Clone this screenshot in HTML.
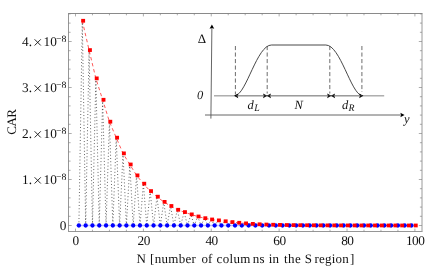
<!DOCTYPE html>
<html><head><meta charset="utf-8"><style>html,body{margin:0;padding:0;background:#fff}svg{display:block;will-change:transform}text{font-family:"Liberation Serif",serif;fill:#111;text-rendering:geometricPrecision}</style></head><body>
<svg width="436" height="269" viewBox="0 0 436 269">
<rect width="436" height="269" fill="#fff"/>
<polyline points="78.89,225.50 82.29,20.80 85.68,225.50 89.08,50.10 92.47,225.50 95.86,78.40 99.26,225.50 102.65,99.80 106.05,225.50 109.44,121.70 112.83,225.50 116.23,137.70 119.62,225.50 123.02,153.40 126.41,225.50 129.80,164.50 133.20,225.50 136.59,175.40 139.99,225.50 143.38,183.70 146.77,225.50 150.17,191.10 153.56,225.50 156.96,196.70 160.35,225.50 163.74,201.90 167.14,225.50 170.53,206.00 173.93,225.50 177.32,209.80 180.71,225.50 184.11,212.10 187.50,225.50 190.90,214.40 194.29,225.50 197.68,216.50 201.08,225.50 204.47,218.20 207.87,225.50 211.26,219.50 214.65,225.50 218.05,220.40 221.44,225.50 224.84,221.30 228.23,225.50 231.62,222.10 235.02,225.50 238.41,222.80 241.81,225.50 245.20,223.40 248.59,225.50 251.99,223.90 255.38,225.50 258.78,224.30 262.17,225.50 265.56,224.56 268.96,225.50 272.35,224.76 275.75,225.50 279.14,224.92 282.53,225.50 285.93,225.04 289.32,225.50 292.72,225.14 296.11,225.50 299.50,225.22 302.90,225.50 306.29,225.28 309.69,225.50 313.08,225.32 316.47,225.50 319.87,225.36 323.26,225.50 326.66,225.39 330.05,225.50 333.44,225.41 336.84,225.50 340.23,225.43 343.63,225.50 347.02,225.45 350.41,225.50 353.81,225.46 357.20,225.50 360.60,225.47 363.99,225.50 367.38,225.47 370.78,225.50 374.17,225.48 377.57,225.50 380.96,225.48 384.35,225.50 387.75,225.49 391.14,225.50 394.54,225.49 397.93,225.50 401.32,225.49 404.72,225.50 408.11,225.49 411.51,225.50 414.90,225.50" fill="none" stroke="#000" stroke-width="0.8" stroke-dasharray="1 2.25" stroke-opacity="0.75"/>
<line x1="76.09" y1="225.5" x2="411.51" y2="225.5" stroke="#0000ff" stroke-width="1.6" stroke-opacity="0.25"/>
<polyline points="82.29,20.80 89.08,50.10 95.86,78.40 102.65,99.80 109.44,121.70 116.23,137.70 123.02,153.40 129.80,164.50 136.59,175.40 143.38,183.70 150.17,191.10 156.96,196.70 163.74,201.90 170.53,206.00 177.32,209.80 184.11,212.10 190.90,214.40 197.68,216.50 204.47,218.20 211.26,219.50 218.05,220.40 224.84,221.30 231.62,222.10 238.41,222.80 245.20,223.40 251.99,223.90 258.78,224.30 265.56,224.56 272.35,224.76 279.14,224.92 285.93,225.04 292.72,225.14 299.50,225.22 306.29,225.28 313.08,225.32 319.87,225.36 326.66,225.39 333.44,225.41 340.23,225.43 347.02,225.45 353.81,225.46 360.60,225.47 367.38,225.47 374.17,225.48 380.96,225.48 387.75,225.49 394.54,225.49 401.32,225.49 408.11,225.49 414.90,225.50" fill="none" stroke="#ff0000" stroke-width="0.65" stroke-dasharray="3.4 2.8"/>
<path d="M68.0,13.5H422.5" stroke="#8a8a8a" stroke-width="1" fill="none"/>
<path d="M68.5,13.5V231.5" stroke="#969696" stroke-width="1" fill="none"/>
<path d="M68.0,231.5H422.5" stroke="#969696" stroke-width="1" fill="none"/>
<path d="M422.0,13.5V231.5" stroke="#9a9a9a" stroke-width="1" fill="none"/>
<path d="M75.50,231.5v-2.9M75.50,13.5v2.9M92.47,231.5v-1.8M92.47,13.5v1.8M109.44,231.5v-1.8M109.44,13.5v1.8M126.41,231.5v-1.8M126.41,13.5v1.8M143.38,231.5v-2.9M143.38,13.5v2.9M160.35,231.5v-1.8M160.35,13.5v1.8M177.32,231.5v-1.8M177.32,13.5v1.8M194.29,231.5v-1.8M194.29,13.5v1.8M211.26,231.5v-2.9M211.26,13.5v2.9M228.23,231.5v-1.8M228.23,13.5v1.8M245.20,231.5v-1.8M245.20,13.5v1.8M262.17,231.5v-1.8M262.17,13.5v1.8M279.14,231.5v-2.9M279.14,13.5v2.9M296.11,231.5v-1.8M296.11,13.5v1.8M313.08,231.5v-1.8M313.08,13.5v1.8M330.05,231.5v-1.8M330.05,13.5v1.8M347.02,231.5v-2.9M347.02,13.5v2.9M363.99,231.5v-1.8M363.99,13.5v1.8M380.96,231.5v-1.8M380.96,13.5v1.8M397.93,231.5v-1.8M397.93,13.5v1.8M414.90,231.5v-2.9M414.90,13.5v2.9M68.5,225.50h3.2M422.0,225.50h-3.2M68.5,216.30h2.1M422.0,216.30h-2.1M68.5,207.10h2.1M422.0,207.10h-2.1M68.5,197.90h2.1M422.0,197.90h-2.1M68.5,188.70h2.1M422.0,188.70h-2.1M68.5,179.50h3.2M422.0,179.50h-3.2M68.5,170.30h2.1M422.0,170.30h-2.1M68.5,161.10h2.1M422.0,161.10h-2.1M68.5,151.90h2.1M422.0,151.90h-2.1M68.5,142.70h2.1M422.0,142.70h-2.1M68.5,133.50h3.2M422.0,133.50h-3.2M68.5,124.30h2.1M422.0,124.30h-2.1M68.5,115.10h2.1M422.0,115.10h-2.1M68.5,105.90h2.1M422.0,105.90h-2.1M68.5,96.70h2.1M422.0,96.70h-2.1M68.5,87.50h3.2M422.0,87.50h-3.2M68.5,78.30h2.1M422.0,78.30h-2.1M68.5,69.10h2.1M422.0,69.10h-2.1M68.5,59.90h2.1M422.0,59.90h-2.1M68.5,50.70h2.1M422.0,50.70h-2.1M68.5,41.50h3.2M422.0,41.50h-3.2M68.5,32.30h2.1M422.0,32.30h-2.1M68.5,23.10h2.1M422.0,23.10h-2.1M68.5,13.90h2.1M422.0,13.90h-2.1" stroke="#808080" stroke-width="0.65" fill="none"/>
<circle cx="78.89" cy="225.5" r="2.15" fill="#0000ff"/>
<circle cx="85.68" cy="225.5" r="2.15" fill="#0000ff"/>
<circle cx="92.47" cy="225.5" r="2.15" fill="#0000ff"/>
<circle cx="99.26" cy="225.5" r="2.15" fill="#0000ff"/>
<circle cx="106.05" cy="225.5" r="2.15" fill="#0000ff"/>
<circle cx="112.83" cy="225.5" r="2.15" fill="#0000ff"/>
<circle cx="119.62" cy="225.5" r="2.15" fill="#0000ff"/>
<circle cx="126.41" cy="225.5" r="2.15" fill="#0000ff"/>
<circle cx="133.20" cy="225.5" r="2.15" fill="#0000ff"/>
<circle cx="139.99" cy="225.5" r="2.15" fill="#0000ff"/>
<circle cx="146.77" cy="225.5" r="2.15" fill="#0000ff"/>
<circle cx="153.56" cy="225.5" r="2.15" fill="#0000ff"/>
<circle cx="160.35" cy="225.5" r="2.15" fill="#0000ff"/>
<circle cx="167.14" cy="225.5" r="2.15" fill="#0000ff"/>
<circle cx="173.93" cy="225.5" r="2.15" fill="#0000ff"/>
<circle cx="180.71" cy="225.5" r="2.15" fill="#0000ff"/>
<circle cx="187.50" cy="225.5" r="2.15" fill="#0000ff"/>
<circle cx="194.29" cy="225.5" r="2.15" fill="#0000ff"/>
<circle cx="201.08" cy="225.5" r="2.15" fill="#0000ff"/>
<circle cx="207.87" cy="225.5" r="2.15" fill="#0000ff"/>
<circle cx="214.65" cy="225.5" r="2.15" fill="#0000ff"/>
<circle cx="221.44" cy="225.5" r="2.15" fill="#0000ff"/>
<circle cx="228.23" cy="225.5" r="2.15" fill="#0000ff"/>
<circle cx="235.02" cy="225.5" r="2.15" fill="#0000ff"/>
<circle cx="241.81" cy="225.5" r="2.15" fill="#0000ff"/>
<circle cx="248.59" cy="225.5" r="2.15" fill="#0000ff"/>
<circle cx="255.38" cy="225.5" r="2.15" fill="#0000ff"/>
<circle cx="262.17" cy="225.5" r="2.15" fill="#0000ff"/>
<circle cx="268.96" cy="225.5" r="2.15" fill="#0000ff"/>
<circle cx="275.75" cy="225.5" r="2.15" fill="#0000ff"/>
<circle cx="282.53" cy="225.5" r="2.15" fill="#0000ff"/>
<circle cx="289.32" cy="225.5" r="2.15" fill="#0000ff"/>
<circle cx="296.11" cy="225.5" r="2.15" fill="#0000ff"/>
<circle cx="302.90" cy="225.5" r="2.15" fill="#0000ff"/>
<circle cx="309.69" cy="225.5" r="2.15" fill="#0000ff"/>
<circle cx="316.47" cy="225.5" r="2.15" fill="#0000ff"/>
<circle cx="323.26" cy="225.5" r="2.15" fill="#0000ff"/>
<circle cx="330.05" cy="225.5" r="2.15" fill="#0000ff"/>
<circle cx="336.84" cy="225.5" r="2.15" fill="#0000ff"/>
<circle cx="343.63" cy="225.5" r="2.15" fill="#0000ff"/>
<circle cx="350.41" cy="225.5" r="2.15" fill="#0000ff"/>
<circle cx="357.20" cy="225.5" r="2.15" fill="#0000ff"/>
<circle cx="363.99" cy="225.5" r="2.15" fill="#0000ff"/>
<circle cx="370.78" cy="225.5" r="2.15" fill="#0000ff"/>
<circle cx="377.57" cy="225.5" r="2.15" fill="#0000ff"/>
<circle cx="384.35" cy="225.5" r="2.15" fill="#0000ff"/>
<circle cx="391.14" cy="225.5" r="2.15" fill="#0000ff"/>
<circle cx="397.93" cy="225.5" r="2.15" fill="#0000ff"/>
<circle cx="404.72" cy="225.5" r="2.15" fill="#0000ff"/>
<circle cx="411.51" cy="225.5" r="2.15" fill="#0000ff"/>
<rect x="81.19" y="18.90" width="3.9" height="3.75" fill="#ff0000"/>
<rect x="87.98" y="48.20" width="3.9" height="3.75" fill="#ff0000"/>
<rect x="94.76" y="76.50" width="3.9" height="3.75" fill="#ff0000"/>
<rect x="101.55" y="97.90" width="3.9" height="3.75" fill="#ff0000"/>
<rect x="108.34" y="119.80" width="3.9" height="3.75" fill="#ff0000"/>
<rect x="115.13" y="135.80" width="3.9" height="3.75" fill="#ff0000"/>
<rect x="121.92" y="151.50" width="3.9" height="3.75" fill="#ff0000"/>
<rect x="128.70" y="162.60" width="3.9" height="3.75" fill="#ff0000"/>
<rect x="135.49" y="173.50" width="3.9" height="3.75" fill="#ff0000"/>
<rect x="142.28" y="181.80" width="3.9" height="3.75" fill="#ff0000"/>
<rect x="149.07" y="189.20" width="3.9" height="3.75" fill="#ff0000"/>
<rect x="155.86" y="194.80" width="3.9" height="3.75" fill="#ff0000"/>
<rect x="162.64" y="200.00" width="3.9" height="3.75" fill="#ff0000"/>
<rect x="169.43" y="204.10" width="3.9" height="3.75" fill="#ff0000"/>
<rect x="176.22" y="207.90" width="3.9" height="3.75" fill="#ff0000"/>
<rect x="183.01" y="210.20" width="3.9" height="3.75" fill="#ff0000"/>
<rect x="189.80" y="212.50" width="3.9" height="3.75" fill="#ff0000"/>
<rect x="196.58" y="214.60" width="3.9" height="3.75" fill="#ff0000"/>
<rect x="203.37" y="216.30" width="3.9" height="3.75" fill="#ff0000"/>
<rect x="210.16" y="217.60" width="3.9" height="3.75" fill="#ff0000"/>
<rect x="216.95" y="218.50" width="3.9" height="3.75" fill="#ff0000"/>
<rect x="223.74" y="219.40" width="3.9" height="3.75" fill="#ff0000"/>
<rect x="230.52" y="220.20" width="3.9" height="3.75" fill="#ff0000"/>
<rect x="237.31" y="220.90" width="3.9" height="3.75" fill="#ff0000"/>
<rect x="244.10" y="221.50" width="3.9" height="3.75" fill="#ff0000"/>
<rect x="250.89" y="222.00" width="3.9" height="3.75" fill="#ff0000"/>
<rect x="257.68" y="222.40" width="3.9" height="3.75" fill="#ff0000"/>
<rect x="264.46" y="222.66" width="3.9" height="3.75" fill="#ff0000"/>
<rect x="271.25" y="222.86" width="3.9" height="3.75" fill="#ff0000"/>
<rect x="278.04" y="223.02" width="3.9" height="3.75" fill="#ff0000"/>
<rect x="284.83" y="223.14" width="3.9" height="3.75" fill="#ff0000"/>
<rect x="291.62" y="223.24" width="3.9" height="3.75" fill="#ff0000"/>
<rect x="298.40" y="223.32" width="3.9" height="3.75" fill="#ff0000"/>
<rect x="305.19" y="223.38" width="3.9" height="3.75" fill="#ff0000"/>
<rect x="311.98" y="223.42" width="3.9" height="3.75" fill="#ff0000"/>
<rect x="318.77" y="223.46" width="3.9" height="3.75" fill="#ff0000"/>
<rect x="325.56" y="223.49" width="3.9" height="3.75" fill="#ff0000"/>
<rect x="332.34" y="223.51" width="3.9" height="3.75" fill="#ff0000"/>
<rect x="339.13" y="223.53" width="3.9" height="3.75" fill="#ff0000"/>
<rect x="345.92" y="223.55" width="3.9" height="3.75" fill="#ff0000"/>
<rect x="352.71" y="223.56" width="3.9" height="3.75" fill="#ff0000"/>
<rect x="359.50" y="223.57" width="3.9" height="3.75" fill="#ff0000"/>
<rect x="366.28" y="223.57" width="3.9" height="3.75" fill="#ff0000"/>
<rect x="373.07" y="223.58" width="3.9" height="3.75" fill="#ff0000"/>
<rect x="379.86" y="223.58" width="3.9" height="3.75" fill="#ff0000"/>
<rect x="386.65" y="223.59" width="3.9" height="3.75" fill="#ff0000"/>
<rect x="393.44" y="223.59" width="3.9" height="3.75" fill="#ff0000"/>
<rect x="400.22" y="223.59" width="3.9" height="3.75" fill="#ff0000"/>
<rect x="407.01" y="223.59" width="3.9" height="3.75" fill="#ff0000"/>
<rect x="413.80" y="223.60" width="3.9" height="3.75" fill="#ff0000"/>
<text x="75.80" y="245.2" font-size="13.3" text-anchor="middle" letter-spacing="0">0</text>
<text x="143.68" y="245.2" font-size="13.3" text-anchor="middle" letter-spacing="-0.5">20</text>
<text x="211.56" y="245.2" font-size="13.3" text-anchor="middle" letter-spacing="-0.5">40</text>
<text x="279.44" y="245.2" font-size="13.3" text-anchor="middle" letter-spacing="-0.5">60</text>
<text x="347.32" y="245.2" font-size="13.3" text-anchor="middle" letter-spacing="-0.5">80</text>
<text x="415.20" y="245.2" font-size="13.3" text-anchor="middle" letter-spacing="-0.5">100</text>
<text x="66.5" y="229.70" font-size="13.3" text-anchor="end">0</text>
<text x="22.1" y="183.90" font-size="13.3">1.</text>
<path d="M34.6,177.30l6.2,6.2m0,-6.2l-6.2,6.2" stroke="#111" stroke-width="0.9" fill="none"/>
<text x="43.6" y="183.90" font-size="13.3">10</text>
<text x="55.9" y="179.70" font-size="9.8">−8</text>
<text x="22.1" y="137.90" font-size="13.3">2.</text>
<path d="M34.6,131.30l6.2,6.2m0,-6.2l-6.2,6.2" stroke="#111" stroke-width="0.9" fill="none"/>
<text x="43.6" y="137.90" font-size="13.3">10</text>
<text x="55.9" y="133.70" font-size="9.8">−8</text>
<text x="22.1" y="91.90" font-size="13.3">3.</text>
<path d="M34.6,85.30l6.2,6.2m0,-6.2l-6.2,6.2" stroke="#111" stroke-width="0.9" fill="none"/>
<text x="43.6" y="91.90" font-size="13.3">10</text>
<text x="55.9" y="87.70" font-size="9.8">−8</text>
<text x="22.1" y="45.90" font-size="13.3">4.</text>
<path d="M34.6,39.30l6.2,6.2m0,-6.2l-6.2,6.2" stroke="#111" stroke-width="0.9" fill="none"/>
<text x="43.6" y="45.90" font-size="13.3">10</text>
<text x="55.9" y="41.70" font-size="9.8">−8</text>
<text y="263" font-size="13"><tspan x="136.4" letter-spacing="0">N</tspan><tspan x="150.0" letter-spacing="0.3">[number</tspan><tspan x="201.4" letter-spacing="0">of</tspan><tspan x="216.6" letter-spacing="0.3">colum</tspan><tspan x="252.7" letter-spacing="0.4">ns</tspan><tspan x="268.8" letter-spacing="0">in</tspan><tspan x="284.0" letter-spacing="0.5">the</tspan><tspan x="304.8" letter-spacing="0">S</tspan><tspan x="314.6" letter-spacing="0.2">region</tspan><tspan x="350.0" letter-spacing="0">]</tspan></text>
<text transform="translate(16.0,122.1) rotate(-90)" font-size="13" text-anchor="middle" letter-spacing="-0.5">CAR</text>
<g stroke="#555" stroke-width="0.9" fill="none">
<path d="M210.9,118.6L211.9,26"/>
<path d="M205,115H403"/>
<path d="M214,95.85H236M362,95.85H384.2" stroke="#777"/>
</g>
<g stroke="#333" stroke-width="0.9" fill="none">
<path d="M235.4,95.7 C246.5,93.5 257,45 271.5,45 H325.80 C340.30,45 350.80,93.5 361.90,95.7"/>
</g>
<g stroke="#484848" stroke-width="0.8" fill="none" stroke-dasharray="4.1 2.4">
<path d="M235.4,46V94.5M267.2,46V93.5M329.8,46V93.5M361.9,46V92"/>
</g>
<path d="M211.9,24.5 L209.55,28.8 L211.9,27.94 L214.25,28.8Z" fill="#000"/>
<path d="M404.6,115 L400.3,112.65 L401.16,115 L400.3,117.35Z" fill="#000"/>
<path d="M234.0,95.85 L238.3,93.5 L237.44,95.85 L238.3,98.19999999999999Z" fill="#000"/>
<path d="M267.3,95.85 L263.0,93.5 L263.86,95.85 L263.0,98.19999999999999Z" fill="#000"/>
<path d="M266.7,95.85 L271.0,93.5 L270.14,95.85 L271.0,98.19999999999999Z" fill="#000"/>
<path d="M331.4,95.85 L327.09999999999997,93.5 L327.96,95.85 L327.09999999999997,98.19999999999999Z" fill="#000"/>
<path d="M330.8,95.85 L335.1,93.5 L334.24,95.85 L335.1,98.19999999999999Z" fill="#000"/>
<path d="M363.4,95.85 L359.09999999999997,93.5 L359.96,95.85 L359.09999999999997,98.19999999999999Z" fill="#000"/>
<path d="M236,95.85H362" stroke="#4a4a4a" stroke-width="0.85" fill="none"/>
<text x="197.8" y="42.8" font-size="13">Δ</text>
<text x="196.9" y="99.4" font-size="12.5" font-style="italic">0</text>
<text x="247.6" y="109.2" font-size="12.5" font-style="italic">d</text>
<text x="254.2" y="111.2" font-size="9.8" font-style="italic">L</text>
<text x="294.6" y="109.2" font-size="12.5" font-style="italic">N</text>
<text x="341.9" y="109.2" font-size="12.5" font-style="italic">d</text>
<text x="348.5" y="111.2" font-size="9.8" font-style="italic">R</text>
<text x="404" y="123.4" font-size="12.5" font-style="italic">y</text>
</svg></body></html>
